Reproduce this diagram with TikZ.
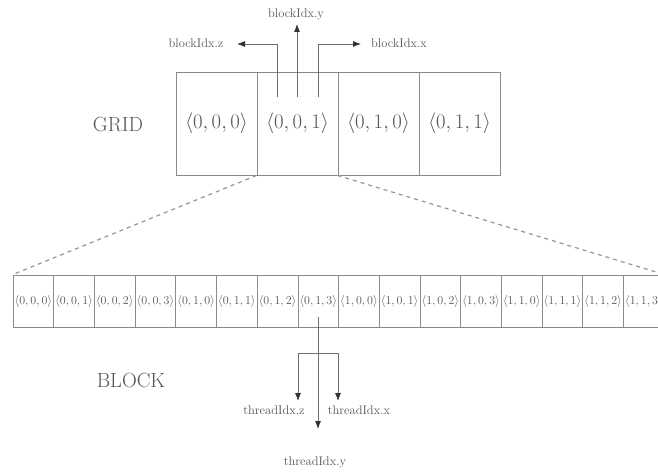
\documentclass[tikz,border=0pt]{standalone}
\usetikzlibrary{arrows.meta}
\definecolor{ln}{HTML}{8A8A8A}
\definecolor{tx}{HTML}{555555}
\tikzset{
  gridcell/.style={draw=ln, line width=0.9pt, minimum width=81pt, minimum height=103pt, inner sep=0pt, text=tx, font=\fontsize{20.5}{24}\selectfont},
  blockcell/.style={draw=ln, line width=0.8pt, minimum width=40.7pt, minimum height=52pt, inner sep=0pt, text=tx, font=\fontsize{12.5}{14}\selectfont},
  lab/.style={text=tx, font=\fontsize{12.5}{14}\selectfont, inner sep=0pt},
  big/.style={text=tx, font=\fontsize{20.5}{24}\selectfont, inner sep=0pt},
  conn/.style={draw=ln!80!black, line width=0.8pt},
  arr/.style={conn, -{Latex[length=8pt,width=6pt,color=black!80]}},
  zoomline/.style={draw=ln!90, line width=1.2pt, dash pattern=on 4pt off 4pt}
}
\begin{document}
\begin{tikzpicture}[x=1pt,y=-1pt]
\useasboundingbox (0,0) rectangle (658,473);
\clip (0,0) rectangle (658,473);
\fill[white] (0,0) rectangle (658,473);

% GRID
\node[big] (gridlab) at (118,125) {GRID};
\node[gridcell] (g1) at (216.5,123.5) {$\langle 0,0,0\rangle$};
\node[gridcell] (g2) at (297.5,123.5) {$\langle 0,0,1\rangle$};
\node[gridcell] (g3) at (378.5,123.5) {$\langle 0,1,0\rangle$};
\node[gridcell] (g4) at (459.5,123.5) {$\langle 0,1,1\rangle$};

% block index arrows
\coordinate (zs) at (277,97);
\coordinate (ys) at (297,97);
\coordinate (xs) at (318,97);
\coordinate (zend) at (237,44);
\coordinate (yend) at (297,24);
\coordinate (xend) at (361,44);
\node[lab] (zl) at (196,43) {blockIdx.z};
\node[lab] (yl) at (296,14) {blockIdx.y};
\node[lab] (xl) at (399,43) {blockIdx.x};
\draw[arr] (zs) |- (zend);
\draw[arr] (ys) -- (yend);
\draw[arr] (xs) |- (xend);

% BLOCK
\node[big] (blocklab) at (131,380) {BLOCK};
\foreach \i/\t in {1/{0,0,0},2/{0,0,1},3/{0,0,2},4/{0,0,3},5/{0,1,0},6/{0,1,1},7/{0,1,2},8/{0,1,3},9/{1,0,0},10/{1,0,1},11/{1,0,2},12/{1,0,3},13/{1,1,0},14/{1,1,1},15/{1,1,2},16/{1,1,3}}{
  \node[blockcell] (b\i) at ({13+40.7*(\i-0.5)},301) {$\langle \t\rangle$};
}

% zoom lines
\draw[zoomline] (g2.south west) -- (b1.north west);
\draw[zoomline] (g3.south west) -- (b16.north east);

% thread index arrows
\coordinate (ts) at (318,317);
\coordinate (tb) at (318,353);
\coordinate (tzend) at (298,401);
\coordinate (txend) at (338,401);
\coordinate (tyend) at (318,429);
\node[lab] (tzl) at (274,410) {threadIdx.z};
\node[lab] (txl) at (359,410) {threadIdx.x};
\node[lab] (tyl) at (315,462) {threadIdx.y};
\draw[arr] (ts) -- (tyend);
\draw[arr] (tb) -| (tzend);
\draw[arr] (tb) -| (txend);
\end{tikzpicture}
\end{document}
